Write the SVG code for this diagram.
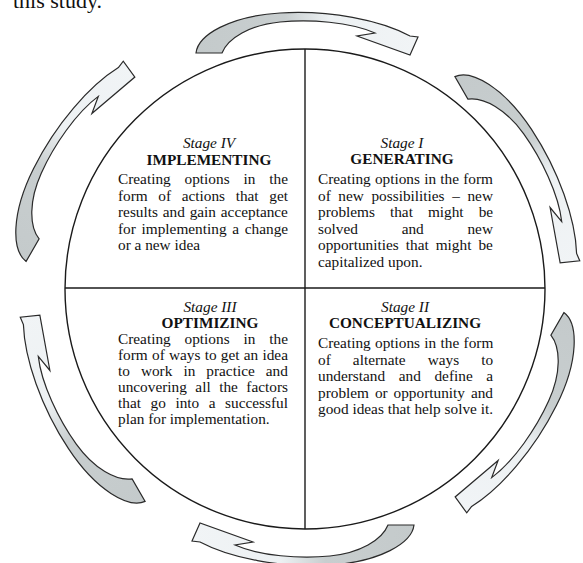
<svg xmlns="http://www.w3.org/2000/svg" xmlns:xlink="http://www.w3.org/1999/xlink" width="583" height="563" viewBox="0 0 583 563">
<style>
  text { font-family: "Liberation Serif", "Times New Roman", serif; fill: #111111; }
  .st { font-style: italic; font-size: 15.3px; text-anchor: middle; }
  .hd { font-weight: bold; font-size: 15.3px; text-anchor: middle; }
  .bd { font-size: 15.3px; }
  .ln { stroke: #1a1a1a; stroke-width: 1.4; fill: none; }
  .arw { stroke: #2a2a2a; stroke-width: 1.2; stroke-linejoin: miter; fill: url(#grad); }
</style>
<defs>
  <linearGradient id="grad" x1="0" y1="0" x2="1" y2="0">
    <stop offset="0" stop-color="#c4cacb"/>
    <stop offset="0.4" stop-color="#c8cecf"/>
    <stop offset="0.6" stop-color="#edf1f3"/>
    <stop offset="1" stop-color="#f1f4f6"/>
  </linearGradient>
  <path id="arrow" class="arw" d="M196,53 C198,35 230,16 280,13 C330,10 380,20 410,36 L418,37 L410,55 L357,36 L375,33 C350,22 310,19 280,22 C250,25 228,38 222,53 Z"/>
</defs>
<rect width="583" height="563" fill="#ffffff"/>
<text x="13" y="8" style="font-size:22px">this study.</text>

<g id="frame">
  <circle class="ln" cx="305" cy="289" r="240" fill="#ffffff"/>
  <line class="ln" x1="65" y1="288" x2="545" y2="288"/>
  <line class="ln" x1="305" y1="49" x2="305" y2="529"/>
</g>

<g id="connectors">
  <use xlink:href="#arrow" href="#arrow"/>
  <use xlink:href="#arrow" href="#arrow" transform="rotate(60 305 289)"/>
  <use xlink:href="#arrow" href="#arrow" transform="rotate(120 305 289)"/>
  <use xlink:href="#arrow" href="#arrow" transform="rotate(180 305 289)"/>
  <use xlink:href="#arrow" href="#arrow" transform="translate(-10 0) rotate(240 305 289)"/>
  <use xlink:href="#arrow" href="#arrow" transform="translate(-20 -4) rotate(300 305 289)"/>
</g>

<g id="stage-iv">
  <text class="st" x="209" y="148">Stage IV</text>
  <text class="hd" x="209" y="165">IMPLEMENTING</text>
  <text class="bd" x="118" y="184" style="word-spacing:10.07px">Creating options in the</text>
  <text class="bd" x="118" y="200.5" style="word-spacing:6.8px">form of actions that get</text>
  <text class="bd" x="118" y="217" style="word-spacing:1px">results and gain acceptance</text>
  <text class="bd" x="118" y="233.5" style="word-spacing:1.9px">for implementing a change</text>
  <text class="bd" x="118" y="250">or a new idea</text>
</g>

<g id="stage-i">
  <text class="st" x="402" y="148">Stage I</text>
  <text class="hd" x="402" y="164">GENERATING</text>
  <text class="bd" x="318" y="184" style="word-spacing:0.4px">Creating options in the form</text>
  <text class="bd" x="318" y="200.5" style="word-spacing:3.8px">of new possibilities – new</text>
  <text class="bd" x="318" y="217" style="word-spacing:11.2px">problems that might be</text>
  <text class="bd" x="318" y="233.5" style="word-spacing:39.9px">solved and new</text>
  <text class="bd" x="318" y="250" style="word-spacing:3.2px">opportunities that might be</text>
  <text class="bd" x="318" y="266.5">capitalized upon.</text>
</g>

<g id="stage-iii">
  <text class="st" x="210" y="312">Stage III</text>
  <text class="hd" x="210" y="328">OPTIMIZING</text>
  <text class="bd" x="118" y="344" style="word-spacing:10.07px">Creating options in the</text>
  <text class="bd" x="118" y="360" style="word-spacing:0.43px">form of ways to get an idea</text>
  <text class="bd" x="118" y="376" style="word-spacing:7.2px">to work in practice and</text>
  <text class="bd" x="118" y="392" style="word-spacing:4.7px">uncovering all the factors</text>
  <text class="bd" x="118" y="408" style="word-spacing:5.75px">that go into a successful</text>
  <text class="bd" x="118" y="424">plan for implementation.</text>
</g>

<g id="stage-ii">
  <text class="st" x="405" y="312">Stage II</text>
  <text class="hd" x="405" y="328">CONCEPTUALIZING</text>
  <text class="bd" x="318" y="348" style="word-spacing:0.5px">Creating options in the form</text>
  <text class="bd" x="318" y="364.5" style="word-spacing:18.3px">of alternate ways to</text>
  <text class="bd" x="318" y="381" style="word-spacing:9.8px">understand and define a</text>
  <text class="bd" x="318" y="397.5" style="word-spacing:2.1px">problem or opportunity and</text>
  <text class="bd" x="318" y="414">good ideas that help solve it.</text>
</g>
</svg>
